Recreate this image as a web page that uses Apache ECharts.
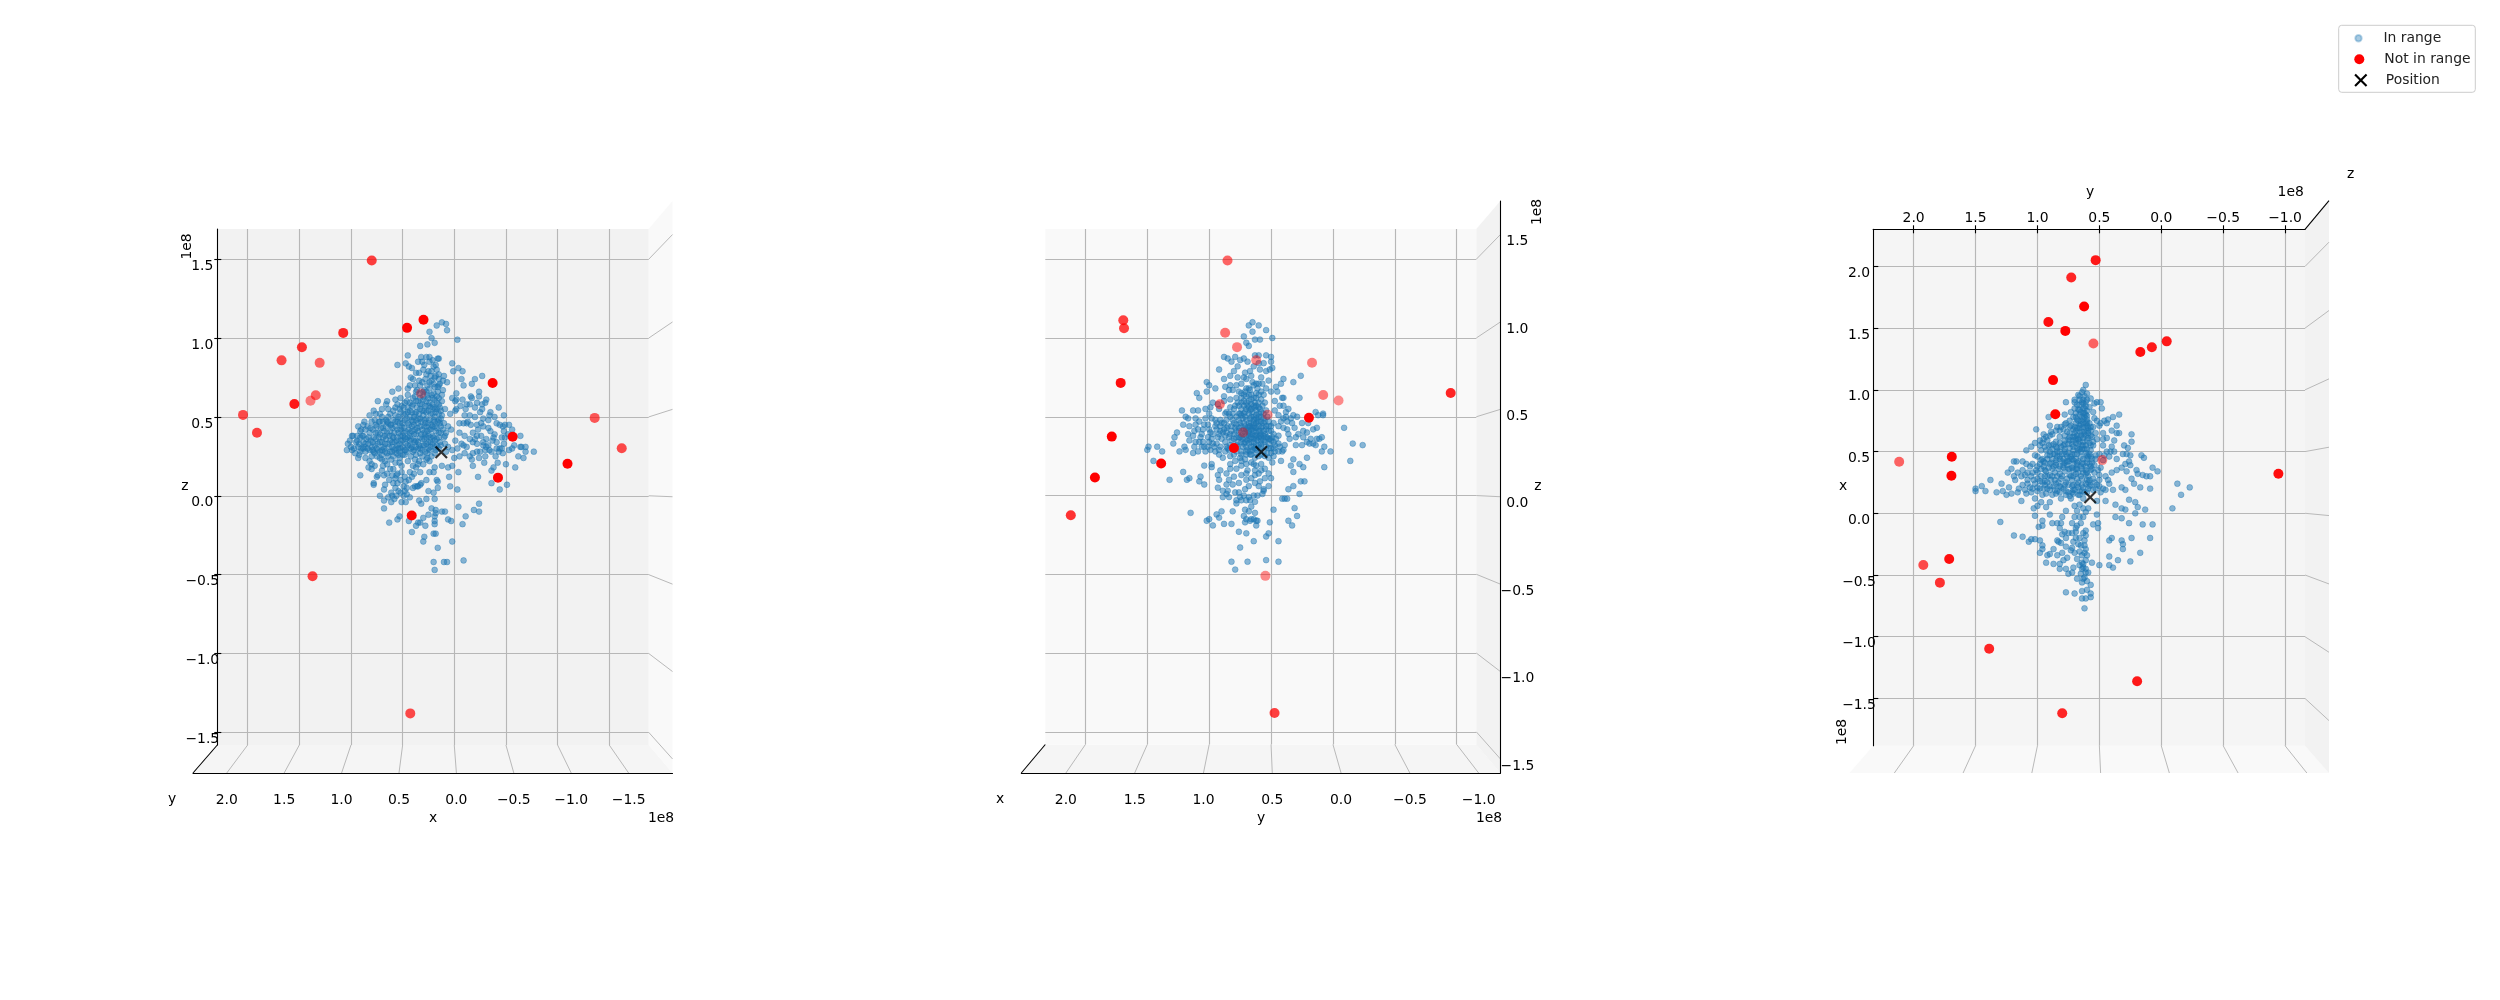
<!DOCTYPE html>
<html><head><meta charset="utf-8">
<script src="https://cdn.jsdelivr.net/npm/echarts@6/dist/echarts.min.js"></script>
<style>html,body{margin:0;background:#fff}#c{width:2500px;height:1000px}</style></head>
<body><div id="c"></div>
<script>
// All point values are in units of 1e6 (axes are labelled in 1e8).
const UNIT = 1e6;
const xTicks1 = [2.0,1.5,1.0,0.5,0,-0.5,-1.0,-1.5];
const zTicks  = [1.5,1.0,0.5,0,-0.5,-1.0,-1.5];
const yTicks  = [2.0,1.5,1.0,0.5,0,-0.5,-1.0];
const xTicks3 = [2.0,1.5,1.0,0.5,0,-0.5,-1.0,-1.5];

// panel 1: [x, z]
const inRangeXZ = [[12,110],[17,108],[8,109],[7,105],[24,104],[22,100],[19,97],[26,96],[33,95],[-3,99],[45,89],[32,88],[27,88],[24,88],[35,85],[31,85],[24,85],[16,87],[15,87],[55,83],[47,84],[44,82],[41,81],[37,78],[42,75],[2,84],[-4,81],[1,79],[-8,79],[25,79],[20,82],[17,80],[23,76],[15,77],[10,76],[7,72],[11,73],[-7,74],[-9,70],[-17,71],[-20,74],[-27,76],[34,73],[33,70],[43,70],[45,68],[54,68],[60,66],[22,73],[19,69],[15,70],[24,68],[20,65],[16,66],[27,66],[45,64],[38,63],[52,62],[65,60],[74,60],[57,61],[66,58],[-2,65],[2,62],[-2,61],[-1,60],[-16,63],[-24,66],[-17,62],[-24,63],[-31,61],[-15,58],[-22,59],[-27,58],[-30,59],[-27,55],[-43,56],[-6,57],[-11,55],[-2,55],[-1,54],[4,52],[-15,51],[-20,50],[-5,46],[-9,46],[-12,46],[-16,45],[-22,45],[-28,49],[-33,48],[-34,51],[-39,50],[-48,51],[-44,45],[-47,44],[-49,45],[-53,45],[-56,42],[-48,41],[-33,43],[-28,44],[-35,41],[-23,42],[-18,40],[-22,38],[-20,36],[-39,39],[-38,37],[-46,37],[-49,37],[-31,36],[-28,34],[-33,32],[-28,32],[-9,32],[-12,31],[-7,33],[-18,34],[-1,35],[6,44],[8,40],[3,42],[10,37],[2,29],[-64,38],[-64,31],[-65,31],[-69,31],[-77,28],[-69,28],[-62,25],[-67,24],[-53,29],[-56,30],[-41,30],[-44,30],[-46,30],[-36,28],[-43,28],[-30,29],[-25,28],[-22,28],[-18,27],[-15,25],[-17,23],[0,24],[-29,21],[-38,18],[-42,21],[-50,20],[-59,18],[-36,16],[-18,19],[-23,12],[-36,8],[-51,7],[-44,4],[6,18],[2,19],[12,19],[19,18],[20,15],[24,15],[-4,15],[5,12],[17,10],[16,9],[4,6],[-3,4],[16,5],[20,2],[25,3],[27,10],[32,8],[36,6],[40,5],[19,-2],[27,-2],[34,-3],[32,-5],[-4,-7],[-24,-5],[-19,-9],[-24,-10],[-11,-13],[-8,-18],[3,-16],[6,-15],[12,-10],[9,-10],[18,-9],[22,-8],[18,-11],[25,-12],[19,-13],[19,-16],[19,-18],[30,-14],[28,-19],[33,-17],[35,-17],[37,-19],[44,-16],[53,-13],[55,-15],[63,-17],[41,-23],[20,-24],[18,-24],[29,-26],[30,-29],[2,-29],[16,-33],[20,-42],[10,-42],[7,-42],[-9,-41],[19,-47],[68,-8],[68,-3],[72,0],[61,2],[58,-2],[54,3],[51,-4],[47,-4],[56,0],[49,0],[48,3],[46,5],[38,6],[68,4],[67,7],[78,8],[78,7],[91,13],[93,24],[74,13],[75,12],[65,14],[62,17],[57,11],[55,14],[51,15],[47,9],[51,19],[45,22],[38,23],[34,22],[35,20],[40,19],[39,14],[43,15],[48,12],[82,22],[80,20],[83,18],[77,19],[65,20],[59,17],[70,23],[61,23],[53,24],[27,23],[24,22],[103,33],[104,29],[99,38],[98,38],[99,29],[93,44],[88,45],[82,51],[77,48],[72,52],[86,42],[91,37],[88,34],[82,40],[75,44],[69,47],[64,50],[57,51],[53,55],[93,31],[88,30],[83,33],[78,37],[74,40],[69,43],[64,46],[59,48],[54,50],[49,52],[45,56],[40,58],[35,60],[30,61],[25,62],[91,28],[86,28],[82,29],[77,32],[72,34],[67,38],[62,41],[57,44],[53,46],[48,48],[43,50],[38,52],[33,55],[28,57],[24,59],[19,61],[78,28],[74,29],[69,31],[64,33],[59,37],[54,40],[49,43],[44,45],[40,47],[35,49],[30,51],[25,54],[20,56],[15,58],[67,28],[62,28],[57,30],[53,33],[48,37],[43,40],[38,42],[33,44],[28,46],[24,48],[19,50],[15,52],[53,28],[48,29],[43,32],[38,34],[33,37],[28,39],[24,42],[19,44],[14,46],[40,28],[35,30],[30,32],[25,34],[20,37],[15,40],[11,42],[33,27],[28,28],[24,29],[19,31],[14,34],[22,25],[19,27],[9,33],[6,31],[15,30],[36,67],[33,65],[30,63],[19,75],[15,74],[11,67],[15,62],[17,55],[13,49],[48,59],[51,57],[57,56],[64,55],[70,55],[78,54],[80,17],[69,19],[67,22],[53,21],[57,21],[56,13],[72,24],[33,7],[35,6],[61,-4]];
const inRangeXZCore = [[97,30],[95,34],[92,33],[90,30],[89,38],[87,31],[85,36],[84,30],[81,35],[80,31],[79,42],[77,27],[76,36],[75,30],[73,37],[72,28],[71,43],[70,34],[68,30],[66,36],[66,44],[65,27],[63,38],[63,31],[61,45],[60,34],[60,28],[58,40],[56,35],[56,27],[55,47],[55,32],[52,38],[52,30],[51,44],[50,35],[50,26],[49,40],[47,33],[46,49],[46,28],[45,37],[44,42],[42,30],[42,36],[41,53],[41,44],[39,39],[39,29],[37,48],[37,35],[36,56],[36,43],[34,32],[34,52],[32,39],[32,47],[31,58],[31,29],[29,36],[29,44],[29,54],[27,33],[27,49],[27,60],[26,41],[26,27],[23,52],[23,37],[23,31],[22,45],[22,64],[21,58],[21,33],[20,48],[18,41],[18,53],[18,29],[17,63],[17,36],[16,47],[16,69],[14,56],[13,40],[13,32],[12,60],[12,51],[10,46],[9,38],[9,55],[8,28],[26,70],[29,67],[31,72],[37,66],[40,62],[43,59],[46,60],[49,56],[52,53],[55,58],[59,54],[62,52],[66,48],[70,50],[73,47],[76,52],[80,47],[84,44],[87,47],[90,42],[94,38],[100,31],[101,35],[96,27],[92,26],[86,24],[80,25],[75,25],[70,26],[64,25],[59,25],[54,26],[48,26],[42,25],[37,26],[31,25],[26,24],[70,16],[68,13],[63,10],[60,13],[59,8],[55,8],[52,10],[49,6],[44,10],[41,12],[37,18],[33,15],[30,20],[57,5],[52,2],[46,1],[43,-1],[64,-1],[60,0],[22,79],[27,77],[30,80],[14,71],[18,83],[21,86],[12,64],[29,83],[34,78],[38,70],[40,74],[-10,51],[-13,47],[-25,53],[-26,46],[-35,53],[-41,46],[-37,35],[-41,34],[-52,39],[-58,32],[-48,33],[-31,31],[-22,33],[-15,36],[-5,40],[-3,30],[-10,38],[-26,38],[-12,58],[-20,56],[-8,61],[-34,29],[-40,25],[-47,27],[-24,24],[-30,25],[-10,27],[-5,25]];
const inRangeXZFill = [[94,35],[91,41],[88,38],[86,33],[83,37],[81,43],[79,29],[79,34],[76,40],[76,45],[74,33],[72,39],[72,47],[70,29],[69,37],[68,41],[67,33],[65,40],[65,47],[62,35],[62,45],[60,31],[60,38],[60,43],[58,29],[58,34],[57,47],[55,37],[55,42],[54,30],[52,35],[52,42],[52,49],[50,31],[50,38],[50,46],[47,29],[47,36],[47,41],[47,52],[45,32],[45,46],[43,35],[43,38],[43,54],[41,31],[41,41],[41,48],[39,35],[39,45],[39,50],[37,31],[37,39],[37,53],[35,34],[35,41],[35,46],[33,30],[33,49],[33,58],[31,36],[31,42],[31,54],[29,32],[29,40],[29,48],[27,37],[27,44],[27,53],[25,30],[25,38],[25,46],[25,57],[23,34],[23,42],[23,56],[21,38],[21,44],[21,52],[21,62],[19,35],[19,47],[19,55],[17,32],[17,43],[17,59],[15,37],[15,48],[13,44],[13,54],[26,64],[30,66],[24,72],[28,74],[20,71],[18,76],[33,62],[37,60],[41,57],[45,53]];
const notInRangeXZ = [[79.9,149.2],[29.8,111.6],[45.7,106.5],[107.5,103.3],[147.5,94.2],[167.2,85.9],[130.3,84.3],[-37.1,71.5],[32.2,64.9],[134.1,63.8],[139.2,60.3],[154.8,58.2],[204.5,51.3],[-135.9,49.4],[191,40],[-56.5,37.4],[-162.1,30.2],[-109.6,20.3],[-42.3,11.5],[41.2,-12.5],[137.2,-51],[42.6,-138]];
const notInRangeXZDepth = [.75,1,1,.85,.8,.7,.6,1,.35,.6,.5,.9,.7,.65,.75,1,.7,1,1,1,.75,.7];
const positionXZ = [[12.6,27.6]];

// panel 2: [y, z]
const inRangeYZ = [[65,110],[68,108],[60,108],[54,105],[65,104],[72,101],[63,99],[59,99],[49,100],[70,97],[68,95],[88,88],[85,87],[79,88],[82,85],[72,87],[75,86],[69,85],[63,89],[54,89],[50,88],[50,85],[56,84],[60,84],[49,81],[54,79],[51,80],[59,80],[64,82],[67,79],[71,78],[77,82],[80,79],[92,80],[77,75],[83,76],[88,74],[70,74],[60,71],[64,70],[74,71],[78,70],[83,70],[87,69],[102,72],[100,70],[95,68],[110,65],[102,66],[108,62],[84,67],[81,67],[71,66],[67,67],[62,65],[50,66],[46,69],[42,71],[40,74],[32,72],[26,76],[45,66],[40,62],[41,62],[27,62],[56,64],[58,61],[55,59],[97,59],[93,58],[99,56],[103,55],[109,54],[113,54],[122,54],[119,50],[117,49],[111,49],[103,49],[98,49],[121,45],[116,44],[111,45],[109,42],[105,42],[126,40],[128,37],[129,33],[117,39],[113,38],[107,37],[99,40],[95,44],[91,48],[87,52],[83,56],[111,34],[119,29],[124,28],[109,28],[103,28],[101,31],[97,33],[93,37],[89,40],[85,44],[81,48],[76,52],[72,57],[68,60],[79,57],[83,61],[78,62],[74,62],[70,63],[64,62],[60,59],[63,56],[67,54],[71,50],[75,46],[79,43],[83,39],[87,34],[91,31],[95,28],[99,29],[87,28],[83,32],[78,37],[74,34],[70,38],[66,42],[62,46],[58,50],[64,50],[60,52],[68,46],[63,38],[59,41],[66,34],[70,31],[74,28],[67,28],[70,26],[62,32],[58,33],[54,31],[50,30],[47,32],[51,36],[55,39],[52,44],[48,46],[44,51],[47,54],[43,57],[40,57],[36,55],[40,49],[38,50],[32,51],[34,49],[29,50],[25,46],[31,43],[40,43],[44,44],[36,39],[35,36],[28,39],[24,41],[21,40],[16,42],[13,43],[14,53],[12,51],[8,52],[8,51],[-9,43],[-16,33],[-24,32],[-14,22],[2,28],[9,28],[7,31],[9,37],[13,36],[16,33],[19,33],[14,32],[21,34],[25,32],[30,32],[39,32],[43,31],[41,28],[40,29],[32,23],[21,24],[42,22],[34,19],[27,20],[24,18],[32,15],[7,18],[26,9],[23,9],[32,6],[36,4],[27,1],[37,-2],[39,-2],[41,-2],[31,-8],[29,-13],[36,-16],[33,-19],[48,-9],[44,-29],[44,-42],[54,-41],[54,-26],[52,-24],[51,-17],[64,-29],[70,-24],[76,-23],[75,-33],[69,-42],[82,-42],[79,-47],[115,-11],[90,-10],[94,-12],[92,-14],[100,-15],[102,-16],[97,-19],[88,-18],[82,-18],[81,-10],[71,-9],[68,-10],[72,-13],[70,-15],[71,-17],[64,-15],[62,-16],[62,-19],[66,-15],[67,-16],[61,-16],[63,-11],[66,-7],[63,-4],[67,-3],[70,-3],[74,-3],[78,-5],[78,-3],[84,-1],[89,-1],[79,2],[76,2],[89,3],[85,3],[93,5],[81,7],[76,8],[71,4],[68,6],[63,8],[59,9],[56,4],[56,3],[52,6],[50,11],[55,11],[52,14],[63,13],[64,0],[61,0],[60,14],[69,16],[74,19],[78,17],[83,17],[86,14],[91,16],[93,13],[98,20],[98,18],[104,19],[92,10],[121,15],[116,11],[118,10],[132,10],[107,12],[108,9],[104,7],[145,22],[138,28],[142,31],[149,31],[150,29],[89,24],[83,20],[79,22],[74,22],[70,20],[66,21],[62,19],[58,20],[52,24],[49,21],[63,24],[113,27],[120,31],[67,44],[72,42],[64,46],[63,43],[60,37],[67,39],[71,34],[63,30],[58,37],[66,31],[68,41],[62,49],[70,55],[75,52],[81,52],[86,48],[91,44],[97,39],[101,37],[105,34],[106,31],[76,41],[82,41],[87,38],[91,41],[95,48],[101,45]];
const inRangeYZCore = [[72,60],[69,57],[66,58],[63,59],[60,56],[57,57],[74,55],[71,53],[68,52],[65,53],[62,54],[59,55],[56,52],[53,50],[76,48],[73,49],[70,48],[67,49],[64,48],[61,47],[58,47],[55,47],[52,47],[78,45],[74,44],[71,44],[69,43],[65,43],[62,43],[60,44],[57,44],[54,42],[50,41],[73,40],[71,40],[68,38],[65,39],[62,40],[59,38],[56,38],[53,37],[49,37],[80,36],[77,34],[73,36],[69,35],[67,36],[64,36],[61,35],[58,35],[55,34],[52,33],[48,34],[85,30],[81,29],[77,31],[73,31],[69,29],[65,29],[62,29],[59,30],[56,28],[53,27],[47,28],[44,33],[44,38],[90,36],[94,33],[98,36],[94,42],[90,46],[86,53],[83,50],[80,55],[77,59],[74,65],[68,68],[65,72],[61,68],[57,71],[54,68],[72,75],[66,76],[76,66],[88,63],[92,55],[100,52],[104,45],[108,47],[100,42],[112,41],[106,39],[88,60],[86,43],[78,28],[92,26],[83,25],[75,24],[71,23],[67,26],[60,25],[55,25],[48,25],[64,20],[70,14],[74,13],[80,12],[63,16],[58,16],[55,17],[84,10],[70,10],[66,11],[86,7],[60,6],[57,1],[72,0],[75,-1],[68,-1],[86,1],[60,89],[58,75],[52,73],[47,60],[37,47],[33,46],[37,42],[24,37],[18,36],[11,36],[20,46],[30,37],[42,47],[38,53]];
const inRangeYZFill = [[75,37],[72,33],[70,42],[70,36],[68,33],[68,40],[68,44],[66,37],[66,46],[66,50],[64,31],[64,34],[64,41],[64,44],[62,36],[62,38],[62,51],[62,57],[60,32],[60,41],[60,47],[60,50],[58,31],[58,39],[58,43],[58,53],[56,35],[56,41],[56,46],[56,49],[54,37],[54,44],[54,54],[52,30],[52,36],[52,41],[50,35],[50,44],[48,30],[48,39],[46,36],[72,46],[74,38],[74,51],[76,43],[76,37],[78,32],[78,41],[78,50],[80,39],[80,46],[82,35],[82,44],[84,37],[84,52],[86,31],[86,40],[88,46],[88,42],[92,39],[94,46],[66,55],[68,56],[70,59],[64,57],[66,61],[72,64],[68,64],[62,62],[60,64],[58,66],[76,57],[74,59],[72,52],[70,68],[66,64],[62,71],[70,28],[66,26],[62,27],[58,26],[74,26],[80,26],[84,29],[50,27],[44,28],[96,31],[100,34],[104,31],[108,34],[112,31],[116,35],[92,29]];
const notInRangeYZ = [[85.2,149.2],[169.4,111.3],[168.8,106.2],[87.1,103.3],[77.5,94.2],[62,85.9],[16.9,84.3],[171.5,71.5],[91.4,57.9],[7.9,63.8],[-4.5,60.3],[-95.1,65.1],[52.8,51.3],[19.4,49.4],[178.7,37.4],[72.6,40],[80,30.2],[138.8,20.3],[192.3,11.5],[211.8,-12.5],[54.6,-51],[47.2,-138]];
const notInRangeYZDepth = [.6,.75,.75,.55,.5,.45,.5,.95,.5,.5,.45,.85,.4,1,1,.4,1,1,1,.8,.45,.75];
const positionYZ = [[57.9,27.6]];

// panel 3: [y, x]
const inRangeYX = [[61,104],[63,100],[60,97],[77,90],[70,92],[66,92],[57,93],[52,90],[49,90],[54,89],[48,85],[63,89],[62,85],[65,82],[70,85],[73,82],[69,78],[61,80],[55,82],[54,77],[50,71],[49,73],[44,73],[43,76],[39,78],[34,80],[36,71],[40,67],[34,65],[47,65],[44,61],[24,64],[24,58],[30,55],[27,53],[36,65],[38,59],[40,54],[41,50],[38,50],[46,47],[42,46],[36,44],[28,48],[31,48],[25,47],[26,42],[16,47],[14,45],[29,40],[25,39],[32,37],[28,34],[20,35],[19,32],[15,31],[9,30],[12,30],[7,37],[3,34],[24,28],[22,24],[17,21],[9,20],[32,21],[29,19],[26,11],[21,9],[19,5],[13,3],[21,0],[32,4],[29,3],[37,7],[45,10],[52,10],[-13,24],[-23,21],[-16,15],[-9,4],[37,-3],[32,-4],[26,-8],[15,-9],[7,-9],[24,-20],[9,-20],[42,-22],[40,-20],[32,-22],[31,-25],[31,-29],[17,-32],[42,-35],[35,-38],[25,-39],[42,-42],[39,-44],[50,-42],[56,-40],[55,-9],[51,-8],[51,-12],[52,-1],[130,-7],[119,-18],[112,-19],[107,-23],[105,-21],[102,-21],[98,-22],[96,-26],[96,-29],[98,-32],[92,-34],[90,-33],[87,-29],[93,-40],[87,-41],[82,-41],[82,-45],[77,-45],[71,-44],[75,-49],[68,-53],[72,-48],[65,-49],[61,-48],[59,-48],[63,-53],[64,-56],[60,-55],[57,-58],[60,-62],[57,-65],[57,-68],[61,-69],[64,-63],[70,-65],[77,-64],[64,-69],[62,-77],[64,-45],[63,-41],[61,-38],[64,-34],[66,-31],[70,-32],[73,-30],[76,-36],[80,-32],[77,-27],[81,-24],[84,-22],[83,-23],[71,-23],[69,-20],[67,-25],[62,-22],[61,-14],[61,-18],[62,-26],[61,-29],[69,-15],[72,-16],[75,-16],[78,-15],[80,-17],[82,-12],[84,-8],[81,-8],[88,-8],[96,-6],[96,-10],[99,-11],[68,-10],[69,-12],[65,-8],[70,-3],[66,-3],[63,-3],[61,1],[68,2],[70,6],[66,7],[63,4],[59,4],[77,2],[80,-3],[102,-2],[103,4],[100,6],[97,9],[93,5],[90,9],[113,10],[102,12],[81,12],[73,12],[67,15],[63,12],[47,20],[49,17],[52,23],[43,27],[40,33],[45,30],[50,27],[39,19],[42,24],[138,27],[145,22],[150,20],[150,18],[142,18],[133,17],[129,24],[128,18],[125,15],[121,16],[123,21],[124,33],[121,36],[119,42],[117,42],[112,42],[109,40],[106,38],[119,30],[118,27],[113,30],[110,31],[109,51],[112,23],[116,17],[110,19],[106,21],[102,24],[98,20],[94,23],[90,19],[85,16],[81,21],[75,17],[71,23],[67,25],[63,21],[59,25],[55,28],[105,30],[101,35],[97,30],[93,34],[89,27],[85,24],[81,28],[77,25],[73,30],[69,32],[65,30],[61,32],[57,35],[101,68],[105,54],[102,57],[98,59],[96,57],[92,59],[90,63],[89,66],[85,67],[90,71],[91,78],[82,62],[78,63],[77,73],[73,71],[69,73],[65,75],[61,73],[57,70],[53,65],[55,58],[57,51],[59,46],[63,40],[69,36],[74,36],[79,39],[85,39],[90,40],[96,44],[97,51],[93,51],[89,55],[85,58],[79,55],[74,59],[70,65],[66,69],[62,66],[59,61],[63,61],[69,57],[66,52],[62,52],[71,51],[77,48],[82,50],[86,48],[90,47],[85,43],[79,44],[74,44],[69,44],[65,46],[71,40],[61,55],[59,69],[62,78],[67,75],[66,61],[70,70],[74,65],[57,63],[82,67],[94,35],[98,40],[102,47],[54,39],[51,35],[58,40],[61,35],[53,44],[50,48],[108,27],[115,20],[109,16],[105,17],[93,16],[88,15],[77,15],[71,16],[59,20],[55,19],[45,19],[36,35]];
const inRangeYXCore = [[66,88],[63,85],[60,83],[58,86],[62,81],[66,80],[69,81],[63,76],[60,76],[58,73],[65,72],[68,69],[71,68],[63,70],[60,71],[57,67],[66,66],[69,67],[62,64],[59,65],[56,62],[65,63],[68,63],[71,62],[74,62],[60,59],[63,58],[66,58],[58,57],[55,55],[69,60],[72,56],[75,56],[78,59],[82,57],[85,54],[88,52],[91,55],[94,54],[78,52],[74,53],[71,54],[68,53],[64,55],[60,52],[57,55],[84,50],[80,48],[76,46],[72,48],[68,48],[65,50],[61,49],[58,48],[92,47],[88,44],[84,46],[80,42],[76,42],[72,44],[67,42],[63,44],[60,44],[56,44],[53,47],[94,41],[88,36],[82,38],[76,39],[72,37],[68,39],[65,38],[61,38],[57,38],[100,46],[97,43],[104,40],[100,38],[95,38],[92,30],[86,33],[82,32],[78,34],[74,31],[71,30],[67,33],[63,33],[59,30],[54,33],[108,33],[104,33],[100,28],[96,25],[92,25],[87,22],[83,25],[79,20],[75,23],[71,19],[67,21],[64,18],[61,24],[57,23],[53,20],[112,35],[116,33],[108,24],[104,20],[100,18],[96,15],[92,20],[86,19],[82,17],[74,14],[70,19],[66,15],[60,17],[58,27],[50,31],[49,37],[47,43],[93,62],[84,70],[79,68],[76,66],[95,60],[98,55],[70,90],[66,95],[60,92],[63,92],[64,98],[74,75],[78,80],[67,84],[71,78],[47,55],[44,50],[47,60],[52,60],[55,70],[52,75],[46,75],[72,-8],[66,-20],[63,-16],[62,-32],[65,-26],[68,-37],[64,-40],[60,-34],[63,-44],[66,-42],[77,-20],[72,-28],[61,-45],[62,-52],[84,-34],[79,-38],[90,-1]];
const inRangeYXFill = [[64,90],[61,87],[66,84],[63,81],[60,79],[64,78],[68,76],[60,74],[66,71],[63,73],[61,69],[59,67],[67,60],[64,66],[61,63],[70,62],[63,55],[67,56],[71,59],[75,60],[78,56],[81,54],[84,53],[87,56],[90,50],[87,48],[82,46],[78,50],[75,49],[73,46],[70,48],[67,51],[64,52],[60,47],[57,46],[92,44],[89,41],[85,41],[82,44],[78,41],[75,42],[71,43],[68,41],[64,41],[60,41],[56,41],[95,42],[91,37],[87,38],[83,36],[79,37],[75,36],[71,35],[68,36],[64,36],[60,33],[56,36],[100,33],[97,36],[94,30],[90,31],[84,30],[80,30],[76,28],[72,27],[68,28],[64,28],[60,27],[103,27],[98,26],[94,26],[88,30],[86,27],[82,22],[78,23],[72,22],[68,23],[64,23],[100,21],[95,20],[90,22],[84,18],[77,18],[72,17],[66,18],[62,17],[58,22],[54,25],[50,22],[74,70],[78,72],[81,70],[88,64],[95,64],[68,88],[62,95],[67,96],[61,90]];
const notInRangeYX = [[53,205.1],[72.7,191.1],[62.3,167.6],[91.2,155],[77.5,147.8],[54.8,137.6],[-4.4,139.3],[7.6,134.5],[16.9,130.7],[87.4,107.9],[85.6,80.2],[169.2,45.8],[211.7,41.7],[47.6,43.1],[169.5,30.4],[-94.6,32.1],[171.3,-37.1],[192.2,-41.9],[178.8,-56.2],[139,-109.8],[19.5,-136.1],[80,-162]];
const notInRangeYXDepth = [.9,.85,1,.95,1,.6,.9,.9,.95,1,1,1,.6,.45,1,.95,.95,.7,.8,.85,.9,.85];
const positionYX = [[57.4,13]];

const names = ['In range','Not in range','Position'];
const XPATH = 'path://M1.4 0L6 4.6L10.6 0L12 1.4L7.4 6L12 10.6L10.6 12L6 7.4L1.4 12L0 10.6L4.6 6L0 1.4Z';
const FONT = 'DejaVu Sans', FS = 13.9;
const fmt = v => (v/1e8).toFixed(1).replace('-','\u2212');
const real = a => a.map(v => v*1e8);

const panels = [
 {back:[217.3,229,648.7,745], front:[193,201,672.5,773], h:[-1.882,2.294], v:[-1.5805,1.692], hT:xTicks1, vT:zTicks,
  wall:'#f2f2f2', side:'#f9f9f9', floor:'#f5f5f5', blue:[...inRangeXZ,...inRangeXZCore,...inRangeXZFill], red:notInRangeXZ, depth:notInRangeXZDepth, pos:positionXZ},
 {back:[1045.3,229,1476.3,744.5], front:[1021.3,201,1500.4,773], h:[-1.158,2.324], v:[-1.5805,1.692], hT:yTicks, vT:zTicks,
  wall:'#f9f9f9', side:'#f2f2f2', floor:'#f5f5f5', blue:[...inRangeYZ,...inRangeYZCore,...inRangeYZFill], red:notInRangeYZ, depth:notInRangeYZDepth, pos:positionYZ},
 {back:[1873.3,229.3,2305,745.7], front:[1849.5,201,2329,773], h:[-1.161,2.326], v:[-1.883,2.301], hT:yTicks, vT:xTicks3,
  wall:'#f5f5f5', side:'#f2f2f2', floor:'#f9f9f9', blue:[...inRangeYX,...inRangeYXCore,...inRangeYXFill], red:notInRangeYX, depth:notInRangeYXDepth, pos:positionYX}
];

const grid=[], xAxis=[], yAxis=[], series=[];
const labelStyle = {fontFamily:FONT,fontSize:FS,color:'#000',formatter:fmt,hideOverlap:false};
const blackLine = {show:true,onZero:false,lineStyle:{color:'#000',width:1.1}};
const noLine = {show:false,onZero:false};
const rectOf = r => ({left:r[0],top:r[1],width:r[2]-r[0],height:r[3]-r[1]});

panels.forEach((p,i)=>{
  const bi=i*2, fi=i*2+1;
  grid.push({...rectOf(p.back),show:true,backgroundColor:p.wall,borderWidth:0});
  grid.push({...rectOf(p.front),show:false});
  const hr={type:'value',inverse:true,min:p.h[0]*1e8,max:p.h[1]*1e8}, vr={type:'value',min:p.v[0]*1e8,max:p.v[1]*1e8};
  const ht=real(p.hT), vt=real(p.vT);
  const split={show:true,lineStyle:{color:'#b7b7b7',width:1.15}};
  // back grid
  xAxis.push({...hr,gridIndex:bi,position:i==2?'top':'bottom',splitLine:split,
    axisLine:i==2?blackLine:noLine,
    axisTick:{show:i==2,length:4,customValues:ht,lineStyle:{color:'#000',width:1.1}},
    axisLabel:{show:i==2,customValues:ht,margin:4,...labelStyle}});
  yAxis.push({...vr,gridIndex:bi,position:'left',splitLine:split,
    axisLine:i==1?noLine:blackLine,
    axisTick:{show:i==0,length:3,customValues:vt,lineStyle:{color:'#000',width:1.1}},
    axisLabel:{show:i!=1,customValues:vt,align:'center',verticalAlign:'top',margin:i==0?15:14.3,...labelStyle}});
  // front frame
  xAxis.push({...hr,gridIndex:fi,position:'bottom',splitLine:{show:false},
    axisLine:i==2?noLine:blackLine,
    axisTick:{show:false,customValues:ht},
    axisLabel:{show:i!=2,customValues:ht,margin:20,...labelStyle}});
  yAxis.push({...vr,gridIndex:fi,position:'right',splitLine:{show:false},
    axisLine:i==1?blackLine:noLine,
    axisTick:{show:false,customValues:vt},
    axisLabel:{show:i==1,customValues:vt,align:'center',verticalAlign:'top',margin:17,...labelStyle}});
  const sc = a => a.map(d=>[d[0]*UNIT,d[1]*UNIT]);
  series.push({type:'scatter',name:names[0],xAxisIndex:bi,yAxisIndex:bi,data:sc(p.blue),symbol:'circle',symbolSize:5.8,clip:false,z:3,
    itemStyle:{color:'rgba(31,119,180,0.65)',borderColor:'rgba(31,119,180,0.5)',borderWidth:1},silent:true});
  series.push({type:'scatter',name:names[1],xAxisIndex:bi,yAxisIndex:bi,
    data:sc(p.red).map((d,k)=>({value:d,itemStyle:{opacity:p.depth[k]}})),symbol:'circle',symbolSize:10,clip:false,z:4,
    itemStyle:{color:'#ff0000'},silent:true});
  series.push({type:'scatter',name:names[2],xAxisIndex:bi,yAxisIndex:bi,data:sc(p.pos),symbol:XPATH,symbolSize:13,clip:false,z:5,
    itemStyle:{color:'#000'},silent:true});
});
// extra tick-only axes (ticks crossing the axis line)
const tickOnly = (extra)=>({type:'value',splitLine:{show:false},axisLine:noLine,axisLabel:{show:false},...extra});
yAxis.push(tickOnly({gridIndex:0,position:'left',min:panels[0].v[0]*1e8,max:panels[0].v[1]*1e8,
  axisTick:{show:true,inside:true,length:4,customValues:real(zTicks),lineStyle:{color:'#000',width:1.1}}}));
yAxis.push(tickOnly({gridIndex:4,position:'left',min:panels[2].v[0]*1e8,max:panels[2].v[1]*1e8,
  axisTick:{show:true,inside:true,length:5,customValues:real(xTicks3),lineStyle:{color:'#000',width:1.1}}}));
xAxis.push(tickOnly({gridIndex:4,position:'top',inverse:true,min:panels[2].h[0]*1e8,max:panels[2].h[1]*1e8,
  axisTick:{show:true,inside:true,length:4,customValues:real(yTicks),lineStyle:{color:'#000',width:1.1}}}));

const legendRows = [{n:names[0],icon:'circle',h:6.4,cy:38.3,op:.6},{n:names[1],icon:'circle',h:10,cy:59.3,op:1},{n:names[2],icon:XPATH,h:13,cy:80.3,op:1}];
const legend = legendRows.map(r=>({data:[{name:r.n,icon:r.icon,itemStyle:{opacity:r.op}}],left:2354.3,top:r.cy-8,padding:0,itemWidth:40,itemHeight:r.h,
  selectedMode:false,orient:'horizontal',textStyle:{fontFamily:FONT,fontSize:FS,color:'#222',lineHeight:16,height:16}}));

const chart = echarts.init(document.getElementById('c'),null,{renderer:'canvas'});
chart.setOption({animation:false,backgroundColor:'#fff',grid,xAxis,yAxis,series,legend});

// panes and perspective lines follow the axes' scales
const graphic=[];
const line=(a,b,c,w,z)=>graphic.push({type:'line',silent:true,z:z,shape:{x1:a[0],y1:a[1],x2:b[0],y2:b[1]},style:{stroke:c,lineWidth:w}});
const poly=(pts,c)=>graphic.push({type:'polygon',silent:true,z:-1,shape:{points:pts},style:{fill:c}});
const text=(t,x,y,rot)=>graphic.push({type:'text',silent:true,z:5,x:x,y:y,rotation:rot||0,style:{text:t,font:FS+'px "'+FONT+'"',fill:'#000',align:'center',verticalAlign:'middle'}});
panels.forEach((p,i)=>{
  const [bl,bt,br,bb]=p.back,[fl,ft,fr,fb]=p.front, bi=i*2, fi=i*2+1;
  poly([[bl,bb],[br,bb],[fr,fb],[fl,fb]],p.floor);
  poly([[br,bt],[fr,ft],[fr,fb],[br,bb]],p.side);
  p.hT.forEach(t=>{const v=t*1e8;
    line([chart.convertToPixel({xAxisIndex:bi},v),bb],[chart.convertToPixel({xAxisIndex:fi},v),fb],'#b9b9b9',1,0);});
  p.vT.forEach(t=>{const v=t*1e8;
    line([br,chart.convertToPixel({yAxisIndex:bi},v)],[fr,chart.convertToPixel({yAxisIndex:fi},v)],'#b9b9b9',1,0);});
});
line([217.3,745],[193,773],'#000',1.1,1);
line([1045.3,744.5],[1021.3,773],'#000',1.1,1);
line([2305,229.3],[2329,200.7],'#000',1.1,1);
text('x',433,818); text('1e8',661,818); text('y',172,799); text('z',185,486); text('1e8',187,246.5,Math.PI/2);
text('y',1261,818); text('1e8',1489,818); text('x',1000,799); text('z',1538,486); text('1e8',1537,212,Math.PI/2);
text('y',2090,192.7); text('1e8',2290.7,192.7); text('z',2350.7,174.3); text('x',1843,486); text('1e8',1842,732,Math.PI/2);
graphic.push({type:'rect',silent:true,z:-1,shape:{x:2338.7,y:25.3,width:136.6,height:67,r:3},style:{fill:'rgba(255,255,255,0.8)',stroke:'#cccccc',lineWidth:1}});
chart.setOption({graphic});
</script></body></html>
